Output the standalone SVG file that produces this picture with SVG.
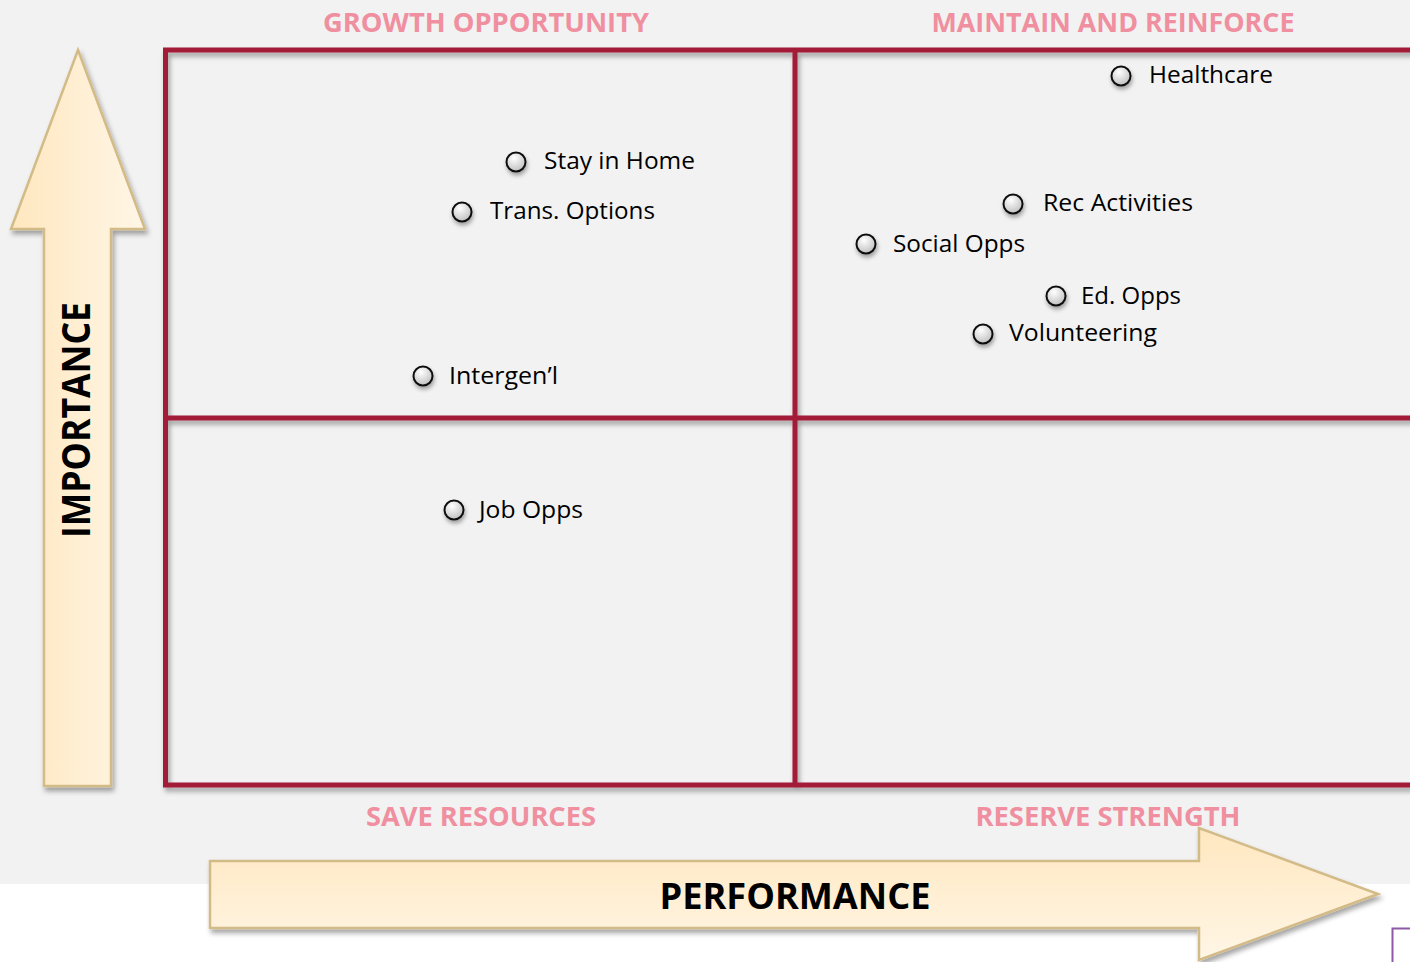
<svg xmlns="http://www.w3.org/2000/svg" width="1410" height="962" viewBox="0 0 1410 962">
<defs>
<linearGradient id="gv" x1="0" y1="0" x2="1" y2="0"><stop offset="0" stop-color="#ffe7bf"/><stop offset="1" stop-color="#fff6e6"/></linearGradient>
<linearGradient id="gh" x1="0" y1="0" x2="0" y2="1"><stop offset="0" stop-color="#ffe7bf"/><stop offset="1" stop-color="#fff6e6"/></linearGradient>
<radialGradient id="gc" cx="0.4" cy="0.3" r="0.8"><stop offset="0" stop-color="#ffffff"/><stop offset="1" stop-color="#b8b8b8"/></radialGradient>
<filter id="sh" x="-20%" y="-20%" width="140%" height="140%"><feDropShadow dx="2" dy="4" stdDeviation="2.5" flood-color="#000" flood-opacity="0.35"/></filter>
<filter id="shc" x="-50%" y="-50%" width="200%" height="200%"><feDropShadow dx="1" dy="3" stdDeviation="2" flood-color="#000" flood-opacity="0.35"/></filter>
<style>
.grid{fill:none;stroke:#a21b39;stroke-width:5}
.arr{stroke:#d3bb88;stroke-width:2.5;stroke-linejoin:miter}
.dot{fill:url(#gc);stroke:#111;stroke-width:2}
.lbl{font-family:"Open Sans","Noto Sans",sans-serif;font-size:23px;fill:#000}
.q{font-family:"Open Sans","Noto Sans",sans-serif;font-size:26px;font-weight:bold;fill:#ef8f9f;text-anchor:middle}
.ax{font-family:"Open Sans","Noto Sans",sans-serif;font-weight:bold;fill:#000;text-anchor:middle}
</style>
</defs>
<rect x="0" y="0" width="1410" height="884" fill="#f2f2f2"/>
<rect x="0" y="884" width="1410" height="78" fill="#ffffff"/>
<g id="grid" filter="url(#sh)">
<path class="grid" d="M1412,50 H165.5 V785 H1412"/>
<line class="grid" x1="795" y1="50" x2="795" y2="785"/>
<line class="grid" x1="165" y1="418" x2="1412" y2="418"/>
</g>
<g id="importance-arrow">
<path class="arr" fill="url(#gv)" filter="url(#sh)" d="M78,50 L145,229 H111 V786 H44 V229 H11 Z"/>
<text class="ax" font-size="39" transform="translate(90,420) rotate(-90)" x="0" y="0" textLength="236" lengthAdjust="spacingAndGlyphs">IMPORTANCE</text>
</g>
<g id="performance-arrow">
<path class="arr" fill="url(#gh)" filter="url(#sh)" d="M1378,894 L1199,960 V928 H210 V861 H1199 V828 Z"/>
<text class="ax" font-size="35" x="795" y="909" textLength="271" lengthAdjust="spacingAndGlyphs">PERFORMANCE</text>
</g>
<rect x="1392.5" y="928.5" width="20" height="40" fill="none" stroke="#8e5aa8" stroke-width="2"/>
<g id="quadrant-labels">
<text class="q" x="486" y="32" textLength="326" lengthAdjust="spacingAndGlyphs">GROWTH OPPORTUNITY</text>
<text class="q" x="1113" y="32" textLength="363" lengthAdjust="spacingAndGlyphs">MAINTAIN AND REINFORCE</text>
<text class="q" x="481" y="826" textLength="230" lengthAdjust="spacingAndGlyphs">SAVE RESOURCES</text>
<text class="q" x="1108" y="826" textLength="265" lengthAdjust="spacingAndGlyphs">RESERVE STRENGTH</text>
</g>
<g id="healthcare"><circle class="dot" filter="url(#shc)" cx="1121" cy="76" r="9.5"/><text class="lbl" x="1149" y="83" textLength="124" lengthAdjust="spacingAndGlyphs">Healthcare</text></g>
<g id="stay-in-home"><circle class="dot" filter="url(#shc)" cx="516" cy="162" r="9.5"/><text class="lbl" x="544" y="169" textLength="151" lengthAdjust="spacingAndGlyphs">Stay in Home</text></g>
<g id="trans-options"><circle class="dot" filter="url(#shc)" cx="462" cy="212" r="9.5"/><text class="lbl" x="490" y="219" textLength="165" lengthAdjust="spacingAndGlyphs">Trans. Options</text></g>
<g id="rec-activities"><circle class="dot" filter="url(#shc)" cx="1013" cy="204" r="9.5"/><text class="lbl" x="1043" y="211" textLength="150" lengthAdjust="spacingAndGlyphs">Rec Activities</text></g>
<g id="social-opps"><circle class="dot" filter="url(#shc)" cx="866" cy="244" r="9.5"/><text class="lbl" x="893" y="252" textLength="132" lengthAdjust="spacingAndGlyphs">Social Opps</text></g>
<g id="ed-opps"><circle class="dot" filter="url(#shc)" cx="1056" cy="296" r="9.5"/><text class="lbl" x="1081" y="304" textLength="100" lengthAdjust="spacingAndGlyphs">Ed. Opps</text></g>
<g id="volunteering"><circle class="dot" filter="url(#shc)" cx="983" cy="334" r="9.5"/><text class="lbl" x="1009" y="341" textLength="148" lengthAdjust="spacingAndGlyphs">Volunteering</text></g>
<g id="intergenl"><circle class="dot" filter="url(#shc)" cx="423" cy="376" r="9.5"/><text class="lbl" x="449" y="384" textLength="109" lengthAdjust="spacingAndGlyphs">Intergen’l</text></g>
<g id="job-opps"><circle class="dot" filter="url(#shc)" cx="454" cy="510" r="9.5"/><text class="lbl" x="479" y="518" textLength="104" lengthAdjust="spacingAndGlyphs">Job Opps</text></g>
</svg>
